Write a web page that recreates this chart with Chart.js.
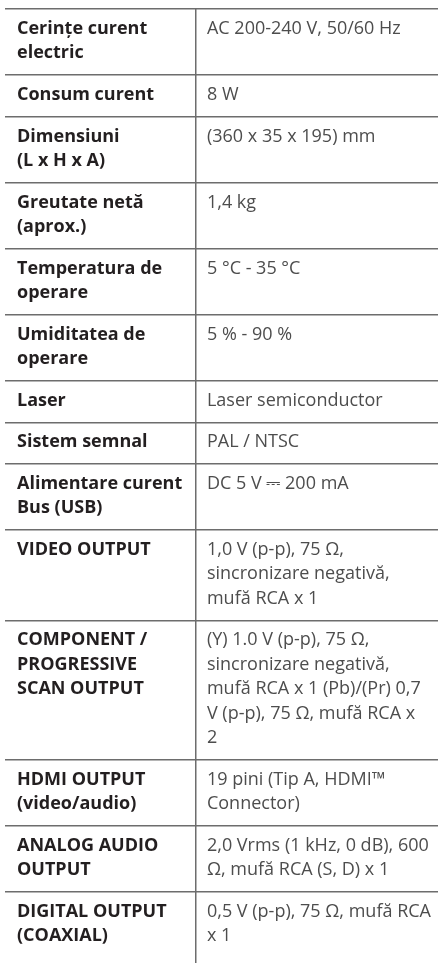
<!DOCTYPE html>
<html>
<head>
<meta charset="utf-8">
<script src="https://cdn.jsdelivr.net/npm/chart.js@4/dist/chart.umd.min.js"></script>
<style>
  html, body { margin: 0; padding: 0; background: #fff; }
  #wrap { width: 438px; height: 963px; }
</style>
</head>
<body>
<div id="wrap"><canvas id="specChart"></canvas></div>
<script>
// table content, one entry per row, already broken into lines
var specNames = [
  ['Cerințe curent', 'electric'],
  ['Consum curent'],
  ['Dimensiuni', '(L x H x A)'],
  ['Greutate netă', '(aprox.)'],
  ['Temperatura de', 'operare'],
  ['Umiditatea de', 'operare'],
  ['Laser'],
  ['Sistem semnal'],
  ['Alimentare curent', 'Bus (USB)'],
  ['VIDEO OUTPUT'],
  ['COMPONENT /', 'PROGRESSIVE', 'SCAN OUTPUT'],
  ['HDMI OUTPUT', '(video/audio)'],
  ['ANALOG AUDIO', 'OUTPUT'],
  ['DIGITAL OUTPUT', '(COAXIAL)'],
];

var specValues = [
  ['AC 200-240 V, 50/60 Hz'],
  ['8 W'],
  ['(360 x 35 x 195) mm'],
  ['1,4 kg'],
  ['5 °C - 35 °C'],
  ['5 % - 90 %'],
  ['Laser semiconductor'],
  ['PAL / NTSC'],
  ['DC 5 V ⎓ 200 mA'],
  ['1,0 V (p-p), 75 Ω,', 'sincronizare negativă,', 'mufă RCA x 1'],
  ['(Y) 1.0 V (p-p), 75 Ω,', 'sincronizare negativă,', 'mufă RCA x 1 (Pb)/(Pr) 0,7', 'V (p-p), 75 Ω, mufă RCA x', '2'],
  ['19 pini (Tip A, HDMI™', 'Connector)'],
  ['2,0 Vrms (1 kHz, 0 dB), 600', 'Ω, mufă RCA (S, D) x 1'],
  ['0,5 V (p-p), 75 Ω, mufă RCA', 'x 1'],
];

// y axis is measured in text lines
var PAD = 0.7;    // extra space per row
var BASE = 1.02;  // first baseline below the row top
var SPLIT = 44.1; // column divider on the 0-100 x axis

var rowTops = [];
var total = 0;
specNames.forEach(function (name, i) {
  rowTops.push(total);
  total += Math.max(name.length, specValues[i].length) + PAD;
});

function cellPoints(list, x) {
  var pts = [];
  list.forEach(function (lines, i) {
    lines.forEach(function (txt, j) {
      pts.push({ x: x, y: rowTops[i] + BASE + j, text: txt });
    });
  });
  return pts;
}

var cellText = {
  id: 'cellText',
  afterDatasetsDraw: function (chart) {
    var ctx = chart.ctx;
    chart.data.datasets.forEach(function (ds, i) {
      var meta = chart.getDatasetMeta(i);
      ctx.save();
      ctx.font = ds.font;
      ctx.fillStyle = ds.textColor;
      ctx.textBaseline = 'alphabetic';
      meta.data.forEach(function (pt, j) {
        ctx.fillText(ds.data[j].text, pt.x + ds.textOffset, pt.y);
      });
      ctx.restore();
    });
  }
};

var ctx = document.getElementById('specChart').getContext('2d');
var specChart = new Chart(ctx, {
  type: 'scatter',
  data: {
    datasets: [
      {
        label: 'names',
        data: cellPoints(specNames, 0),
        pointRadius: 0,
        font: 'bold 18px "Open Sans", "DejaVu Sans", sans-serif',
        textColor: '#231f20',
        textOffset: 12,
      },
      {
        label: 'values',
        data: cellPoints(specValues, SPLIT),
        pointRadius: 0,
        font: '18px "Open Sans", "DejaVu Sans", sans-serif',
        textColor: '#4d4d4d',
        textOffset: 11,
      },
    ],
  },
  options: {
    responsive: true,
    maintainAspectRatio: false,
    animation: false,
    layout: { padding: { left: 5, top: 9, right: 0, bottom: 0 } },
    plugins: {
      legend: { display: false },
      tooltip: { enabled: false },
    },
    scales: {
      x: {
        type: 'linear',
        min: 0,
        max: 100,
        afterBuildTicks: function (scale) {
          scale.ticks = [{ value: SPLIT }];
        },
        ticks: { display: false },
        border: { display: false },
        grid: { color: '#6d6d6d', lineWidth: 1.5, drawTicks: false },
      },
      y: {
        type: 'linear',
        reverse: true,
        min: 0,
        max: total + 0.2,
        afterBuildTicks: function (scale) {
          scale.ticks = rowTops.map(function (v) { return { value: v }; });
        },
        ticks: { display: false },
        border: { display: false },
        grid: { color: '#6d6d6d', lineWidth: 1.5, drawTicks: false },
      },
    },
  },
  plugins: [cellText],
});
</script>
</body>
</html>
